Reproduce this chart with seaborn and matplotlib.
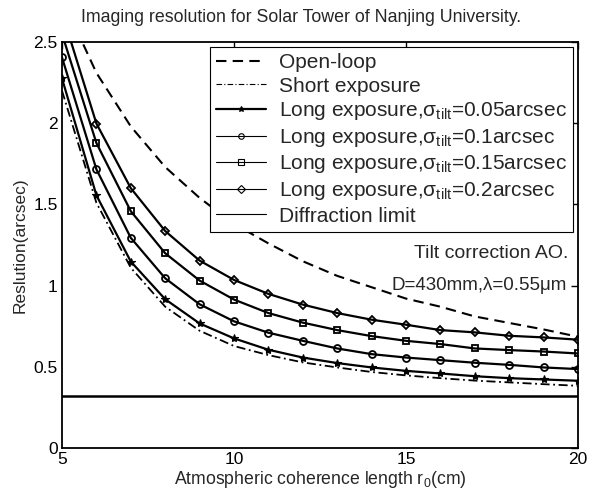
import matplotlib
matplotlib.use("Agg")
import matplotlib.pyplot as plt
import seaborn as sns
import pandas as pd

# ---- data ----
r0 = [5, 6, 7, 8, 9, 10, 11, 12, 13, 14, 15, 16, 17, 18, 19, 20]
open_loop = [2.77, 2.31, 1.98, 1.73, 1.54, 1.38, 1.26, 1.15, 1.06, 0.99, 0.92, 0.87, 0.81, 0.77, 0.73, 0.685]
short_exposure = [2.20, 1.51, 1.11, 0.87, 0.722, 0.628, 0.572, 0.527, 0.496, 0.468, 0.447, 0.430, 0.415, 0.404, 0.393, 0.383]
long_005 = [2.276, 1.556, 1.148, 0.916, 0.767, 0.675, 0.605, 0.557, 0.523, 0.496, 0.475, 0.459, 0.442, 0.430, 0.422, 0.414]
long_010 = [2.405, 1.716, 1.294, 1.045, 0.885, 0.780, 0.710, 0.660, 0.613, 0.578, 0.557, 0.541, 0.525, 0.512, 0.496, 0.486]
long_015 = [2.55, 1.878, 1.458, 1.199, 1.031, 0.914, 0.831, 0.772, 0.726, 0.689, 0.660, 0.640, 0.613, 0.603, 0.594, 0.582]
long_020 = [2.68, 1.998, 1.600, 1.336, 1.154, 1.035, 0.949, 0.883, 0.831, 0.790, 0.759, 0.726, 0.712, 0.691, 0.681, 0.667]
diffraction_limit = 0.32

labels = [
    "Open-loop",
    "Short exposure",
    "Long exposure,σ$_{\\mathrm{tilt}}$=0.05arcsec",
    "Long exposure,σ$_{\\mathrm{tilt}}$=0.1arcsec",
    "Long exposure,σ$_{\\mathrm{tilt}}$=0.15arcsec",
    "Long exposure,σ$_{\\mathrm{tilt}}$=0.2arcsec",
    "Diffraction limit",
]
x_ticks = [5, 10, 15, 20]
y_ticks = [0, 0.5, 1, 1.5, 2, 2.5]
y_ticklabels = ["0", "0.5", "1", "1.5", "2", "2.5"]

sns.set_style("white")
plt.rcParams["font.family"] = ["Liberation Sans", "DejaVu Sans"]
plt.rcParams["mathtext.fontset"] = "custom"
plt.rcParams["mathtext.rm"] = "Liberation Sans"
plt.rcParams["mathtext.it"] = "Liberation Sans:italic"

fig = plt.figure(figsize=(5.89, 4.97), dpi=100)
ax = fig.add_axes([62 / 589, 1 - 448 / 497, (578 - 62) / 589, (448 - 42) / 497])

styles = [
    dict(linestyle=(0, (5, 3)), marker="None", linewidth=1.5),
    dict(linestyle=(0, (5, 2, 1, 2)), marker="None", linewidth=1.3),
    dict(linestyle="-", marker="*", linewidth=1.6, markersize=6,
         markerfacecolor="black", markeredgewidth=0.8),
    dict(linestyle="-", marker="o", linewidth=1.6, markersize=5,
         markerfacecolor="none", markeredgewidth=1.3),
    dict(linestyle="-", marker="s", linewidth=1.6, markersize=5,
         markerfacecolor="none", markeredgewidth=1.3),
    dict(linestyle="-", marker="D", linewidth=1.6, markersize=4.3,
         markerfacecolor="none", markeredgewidth=1.3),
]
all_series = [open_loop, short_exposure, long_005, long_010, long_015, long_020]
handles = []
for vals, st, lab in zip(all_series, styles, labels[:6]):
    df = pd.DataFrame({"r0": r0, "res": vals})
    n_before = len(ax.lines)
    sns.lineplot(data=df, x="r0", y="res", ax=ax, color="black", legend=False)
    line = ax.lines[n_before]
    line.set_color("black")
    line.set_markeredgecolor("black")
    for k, v in st.items():
        getattr(line, "set_" + k)(v)
    line.set_label(lab)
    handles.append(line)
hl = ax.axhline(diffraction_limit, color="black", lw=1.8, label=labels[6])
handles.append(hl)

ax.set_xlim(5, 20)
ax.set_ylim(0, 2.5)
ax.set_xticks(x_ticks)
ax.set_yticks(y_ticks)
ax.set_xticklabels([str(t) for t in x_ticks])
ax.set_yticklabels(y_ticklabels)
ax.tick_params(direction="in", top=True, right=True, length=5, width=1,
               labelsize=12.5, colors="black", pad=3)
for sp in ax.spines.values():
    sp.set_visible(True)
    sp.set_color("black")
    sp.set_linewidth(1.3)

ax.set_xlabel("Atmospheric coherence length r$_0$(cm)", fontsize=12.7, labelpad=1)
ax.set_ylabel("Reslution(arcsec)", fontsize=12.5, labelpad=4)
fig.text(301 / 589, 1 - 17 / 497, "Imaging resolution for Solar Tower of Nanjing University.",
         ha="center", va="center", fontsize=12.8)

ax.text(15.23, 1.195, "Tilt correction AO.", fontsize=14, va="center", ha="left")
ax.text(14.59, 0.998, "D=430mm,λ=0.55μm", fontsize=13.5, va="center", ha="left")

leg = ax.legend(handles=handles, labels=labels, loc="upper right",
                bbox_to_anchor=(0.99, 0.988), borderaxespad=0,
                fontsize=15, frameon=True, fancybox=False, framealpha=1,
                edgecolor="black", handlelength=2.4, handletextpad=0.6,
                labelspacing=0.22, numpoints=1, borderpad=0.3)
leg.get_frame().set_linewidth(0.8)
for i, ln in enumerate(leg.get_lines()):
    if i in (1, 3, 4, 5, 6):
        ln.set_linewidth(0.8)
    ln.set_markersize(4)
    ln.set_markeredgewidth(0.8)

fig.savefig("out.png", dpi=100)
